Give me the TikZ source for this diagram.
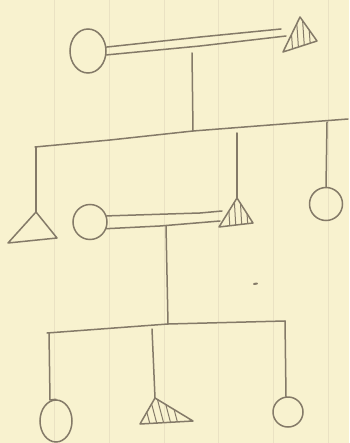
\documentclass[tikz,border=0pt]{standalone}
\usetikzlibrary{shapes.geometric}
\definecolor{paper}{RGB}{248,242,207}
\definecolor{rulecol}{RGB}{234,226,195}
\definecolor{pencil}{RGB}{132,122,104}
\begin{document}
\begin{tikzpicture}[x=1pt,y=-1pt,
  pen/.style={draw=pencil, line width=1.5pt, line cap=round, line join=round},
  hatch/.style={draw=pencil, line width=1pt, line cap=round},
  female/.style={ellipse, draw=pencil, line width=1.5pt, inner sep=0pt, fill=none}]
\fill[paper] (0,0) rectangle (349,443);
\useasboundingbox (0,0) rectangle (349,443);
\foreach \x in {54,109,164,218,273,328} \draw[rulecol, line width=1pt] (\x,0) -- (\x,443);

% ---------- generation 1 ----------
\node[female, minimum width=36pt, minimum height=44pt] (f1) at (88,51) {};
\coordinate (m1a) at (300,17);
\coordinate (m1b) at (317,41);
\coordinate (m1c) at (283,52);
\begin{scope}
  \clip (m1a) -- (m1b) -- (m1c) -- cycle;
  \foreach \x in {290,296,302,308} \draw[hatch] (\x,12) -- (\x+3,56);
\end{scope}
\draw[pen] (m1a) -- (m1b) -- (m1c) -- cycle;
\draw[pen] (f1.12) -- (200,37) -- (281,29);
\draw[pen] (f1.-12) -- (200,46) -- (286,36);
\coordinate (d1) at (192,53);
\coordinate (s1) at (193,131);
\draw[pen] (d1) -- (s1);

% sibship 1
\coordinate (s1l) at (35,147);
\coordinate (s1r) at (348,119);
\draw[pen] (s1l) -- (110,140) -- (s1) -- (270,125) -- (s1r);

\coordinate (m2a) at (36,212);
\coordinate (m2b) at (57,238);
\coordinate (m2c) at (8,243);
\draw[pen] (36,147) -- (m2a);
\draw[pen] (m2a) -- (m2b) -- (m2c) -- cycle;

\coordinate (m3a) at (237,198);
\coordinate (m3b) at (253,223);
\coordinate (m3c) at (219,227);
\begin{scope}
  \clip (m3a) -- (m3b) -- (m3c) -- cycle;
  \foreach \x in {228,234,240,246} \draw[hatch] (\x,195) -- (\x+2,230);
\end{scope}
\draw[pen] (237,133) -- (m3a);
\draw[pen] (m3a) -- (m3b) -- (m3c) -- cycle;

\node[female, minimum width=33pt, minimum height=33pt] (f3) at (326,204) {};
\draw[pen] (327,122) -- (f3.north);

% ---------- generation 2 ----------
\node[female, minimum width=34pt, minimum height=35pt] (f2) at (90,222) {};
\draw[pen] (f2.20) -- (200,213) -- (222,211);
\draw[pen] (f2.-22) -- (160,226) -- (220,221);
\coordinate (d2) at (166,226);
\coordinate (s2) at (168,324);
\draw[pen] (d2) -- (s2);

\draw[pencil, line width=2pt, line cap=round] (254,284) -- (257,283.5);

% sibship 2
\coordinate (s2l) at (47,333);
\coordinate (s2r) at (285,321);
\draw[pen] (s2l) -- (s2) -- (s2r);

\node[female, minimum width=32pt, minimum height=42pt] (f4) at (56,421) {};
\draw[pen] (49,333) -- (50,400) -- (f4.north);

\coordinate (m4a) at (155,398);
\coordinate (m4b) at (193,421);
\coordinate (m4c) at (140,424);
\begin{scope}
  \clip (m4a) -- (m4b) -- (m4c) -- cycle;
  \foreach \x in {142,149,156,163,170} \draw[hatch] (\x,394) -- (\x+9,428);
\end{scope}
\draw[pen] (152,329) -- (m4a);
\draw[pen] (m4a) -- (m4b) -- (m4c) -- cycle;

\node[female, minimum width=30pt, minimum height=30pt] (f5) at (288,412) {};
\draw[pen] (s2r) -- (286,397);
\end{tikzpicture}
\end{document}
